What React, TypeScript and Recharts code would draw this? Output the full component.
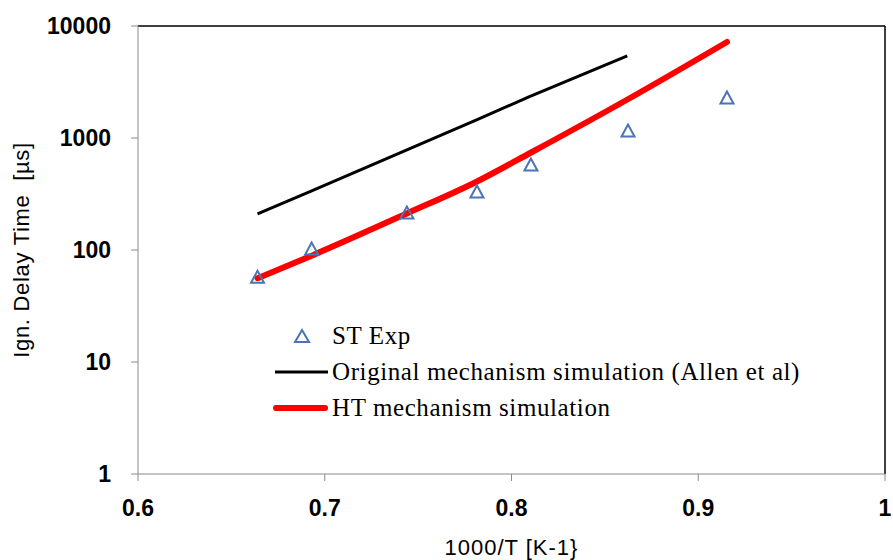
import React from "react";
import {
  ComposedChart,
  Line,
  Scatter,
  XAxis,
  YAxis,
  ReferenceLine,
} from "recharts";

const expX = [0.664, 0.693, 0.744, 0.7815, 0.8104, 0.8624, 0.9154];
const expY = [57, 102, 214, 330, 574, 1155, 2276];

const origX = [0.664, 0.693, 0.744, 0.781, 0.809, 0.862];
const origY = [210, 338, 783, 1442, 2320, 5400];

const htX = [0.664, 0.693, 0.744, 0.781, 0.811, 0.8635, 0.9154];
const htY = [56, 89, 212, 405, 750, 2276, 7200];

const xTicks = [0.6, 0.7, 0.8, 0.9, 1];
const yTicks = [1, 10, 100, 1000, 10000];

const legendLabels = [
  "ST Exp",
  "Original mechanism simulation (Allen et al)",
  "HT mechanism simulation",
];

const expData = expX.map((x, i) => ({ x, y: expY[i] }));
const origData = origX.map((x, i) => ({ x, y: origY[i] }));
const htData = htX.map((x, i) => ({ x, y: htY[i] }));

const BLUE = "#4a74b4";
const AXIS = "#8a8a8a";

const Triangle = (props: any) => {
  const { cx, cy } = props;
  if (cx == null || cy == null) return null;
  const s = 6.5;
  return (
    <polygon
      points={`${cx},${cy - s} ${cx - s},${cy + s * 0.85} ${cx + s},${cy + s * 0.85}`}
      fill="none"
      stroke={BLUE}
      strokeWidth={2}
    />
  );
};

const LegendBox = () => {
  const row: React.CSSProperties = {
    display: "flex",
    alignItems: "center",
    height: 36,
    fontFamily: "'Liberation Serif', 'Times New Roman', serif",
    fontSize: 25,
    letterSpacing: 0.6,
    color: "#000",
    whiteSpace: "nowrap",
  };
  return (
    <div style={{ position: "absolute", left: 272, top: 318 }}>
      <div style={row}>
        <svg width={60} height={20} style={{ flex: "none" }}>
          <polygon points="30,4 23,16 37,16" fill="none" stroke={BLUE} strokeWidth={2} />
        </svg>
        <span>{legendLabels[0]}</span>
      </div>
      <div style={row}>
        <svg width={60} height={20} style={{ flex: "none" }}>
          <line x1={3} y1={10} x2={56} y2={10} stroke="#000" strokeWidth={3} />
        </svg>
        <span>{legendLabels[1]}</span>
      </div>
      <div style={row}>
        <svg width={60} height={20} style={{ flex: "none" }}>
          <line x1={4} y1={10} x2={53} y2={10} stroke="#ff0000" strokeWidth={6} strokeLinecap="round" />
        </svg>
        <span>{legendLabels[2]}</span>
      </div>
    </div>
  );
};

const tickStyle = {
  fontFamily: "'Liberation Sans', Arial, sans-serif",
  fontWeight: 700,
  fontSize: 23,
  fill: "#000",
};

export default function App() {
  return (
    <div style={{ position: "absolute", left: 0, top: 0, width: 893, height: 560, background: "#fff" }}>
      <ComposedChart
        width={893}
        height={560}
        margin={{ top: 26, right: 8, bottom: 26, left: 38 }}
      >
        <XAxis
          type="number"
          dataKey="x"
          domain={[0.6, 1]}
          ticks={xTicks}
          allowDataOverflow
          height={60}
          stroke={AXIS}
          tickSize={7}
          tick={tickStyle}
          tickMargin={19}
          label={{
            value: "1000/T [K-1}",
            position: "insideBottom",
            offset: -21,
            style: {
              fontFamily: "'Liberation Sans', Arial, sans-serif",
              fontSize: 22,
              letterSpacing: 1,
              fill: "#000",
            },
          }}
        />
        <YAxis
          type="number"
          dataKey="y"
          scale="log"
          domain={[1, 10000]}
          ticks={yTicks}
          allowDataOverflow
          width={100}
          stroke={AXIS}
          tickSize={7}
          tick={tickStyle}
          tickMargin={20}
          label={{
            value: "Ign. Delay Time\u00a0 [\u00b5s]",
            angle: -90,
            position: "insideLeft",
            offset: -17,
            style: {
              textAnchor: "middle",
              fontFamily: "'Liberation Sans', Arial, sans-serif",
              fontSize: 22,
              letterSpacing: 0.7,
              fill: "#000",
            },
          }}
        />
        <ReferenceLine y={10000} stroke="#000" strokeWidth={1.5} />
        <ReferenceLine x={1} stroke="#000" strokeWidth={1.5} />
        <Line
          data={origData}
          dataKey="y"
          type="linear"
          stroke="#000"
          strokeWidth={3}
          dot={false}
          isAnimationActive={false}
        />
        <Line
          data={htData}
          dataKey="y"
          type="monotone"
          stroke="#ff0000"
          strokeWidth={6}
          strokeLinecap="round"
          dot={false}
          isAnimationActive={false}
        />
        <Scatter
          data={expData}
          dataKey="y"
          shape={<Triangle />}
          isAnimationActive={false}
        />
      </ComposedChart>
      <LegendBox />
    </div>
  );
}
